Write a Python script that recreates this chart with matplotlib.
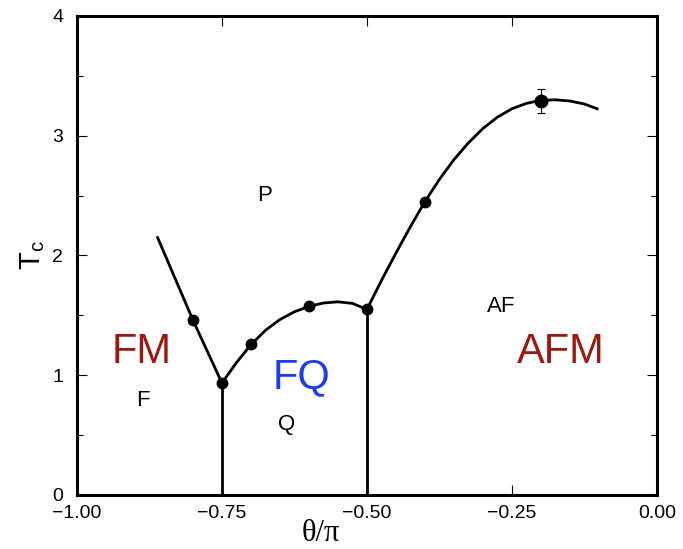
import matplotlib
matplotlib.use("Agg")
import matplotlib.pyplot as plt
from matplotlib.ticker import MultipleLocator, FuncFormatter

plt.rcParams['font.family'] = ['Liberation Sans', 'DejaVu Sans']
plt.rcParams['mathtext.default'] = 'regular'

# phase boundary lines (theta/pi, Tc)
left_x = [-0.861, -0.80, -0.75]
left_y = [2.15, 1.46, 0.935]

mid_x = [-0.75, -0.725, -0.70, -0.675, -0.65, -0.625, -0.60, -0.575, -0.55, -0.525, -0.50]
mid_y = [0.935, 1.105, 1.255, 1.375, 1.465, 1.53, 1.575, 1.603, 1.613, 1.60, 1.55]

right_x = [-0.50, -0.475, -0.45, -0.425, -0.40, -0.375, -0.35, -0.325, -0.30, -0.275,
           -0.25, -0.225, -0.20, -0.175, -0.15, -0.125, -0.103]
right_y = [1.55, 1.79, 2.02, 2.24, 2.45, 2.635, 2.80, 2.94, 3.06, 3.155,
           3.225, 3.27, 3.295, 3.30, 3.29, 3.265, 3.225]

# vertical boundaries
vert_x = [-0.75, -0.50]
vert_top = [0.935, 1.55]

# computed points
pts_x = [-0.80, -0.75, -0.70, -0.60, -0.50, -0.40]
pts_y = [1.46, 0.935, 1.26, 1.575, 1.55, 2.45]
err_x = [-0.20]
err_y = [3.29]
err_e = [0.10]

fig = plt.figure(figsize=(6.83, 5.49), dpi=100)
ax = fig.add_axes([0.1127, 0.0984, 0.849, 0.8725])

lw = 2.0
ax.plot(left_x, left_y, color='black', lw=lw)
ax.plot(mid_x, mid_y, color='black', lw=lw)
ax.plot(right_x, right_y, color='black', lw=lw)
for vx, vt in zip(vert_x, vert_top):
    ax.plot([vx, vx], [0, vt], color='black', lw=lw)

ax.plot(pts_x, pts_y, 'o', color='black', ms=7.5)
ax.errorbar(err_x, err_y, yerr=err_e, fmt='o', color='black', ms=9,
            elinewidth=0.8, capsize=3, capthick=0.8)

# region labels
dark_red = '#9a1a10'
blue = '#1c3cf2'
ax.text(-0.888, 1.19, 'FM', color=dark_red, fontsize=30, ha='center', va='center')
ax.text(-0.887, 0.79, 'F', color='black', fontsize=16, ha='center', va='center')
ax.text(-0.677, 2.50, 'P', color='black', fontsize=16, ha='center', va='center')
ax.text(-0.613, 0.98, 'FQ', color=blue, fontsize=30, ha='center', va='center')
ax.text(-0.639, 0.59, 'Q', color='black', fontsize=16, ha='center', va='center')
ax.text(-0.268, 1.57, 'AF', color='black', fontsize=16, ha='center', va='center')
ax.text(-0.165, 1.19, 'AFM', color=dark_red, fontsize=30, ha='center', va='center')

ax.set_xlim(-1.0, 0.0)
ax.set_ylim(0, 4)
ax.xaxis.set_major_locator(MultipleLocator(0.25))
ax.xaxis.set_major_formatter(FuncFormatter(lambda v, p: f'{v:.2f}'.replace('-', '\u2212')))
ax.yaxis.set_major_locator(MultipleLocator(1))
ax.yaxis.set_minor_locator(MultipleLocator(0.5))
ax.tick_params(axis='both', which='both', direction='in', top=True, right=True,
               labelsize=14, width=0.8)
ax.tick_params(axis='both', which='major', length=7)
ax.tick_params(axis='x', which='major', pad=7)
ax.tick_params(axis='y', which='major', pad=10)
ax.tick_params(axis='both', which='minor', length=4)
for s in ax.spines.values():
    s.set_linewidth(2.2)

ax.set_xlabel('\u03b8/\u03c0', fontsize=22, family=['Liberation Serif', 'DejaVu Serif'],
              labelpad=0)
ax.xaxis.set_label_coords(0.42, -0.05)
ax.set_ylabel(r'$T_c$', fontsize=21, labelpad=4)

fig.savefig('out.png', dpi=100)
